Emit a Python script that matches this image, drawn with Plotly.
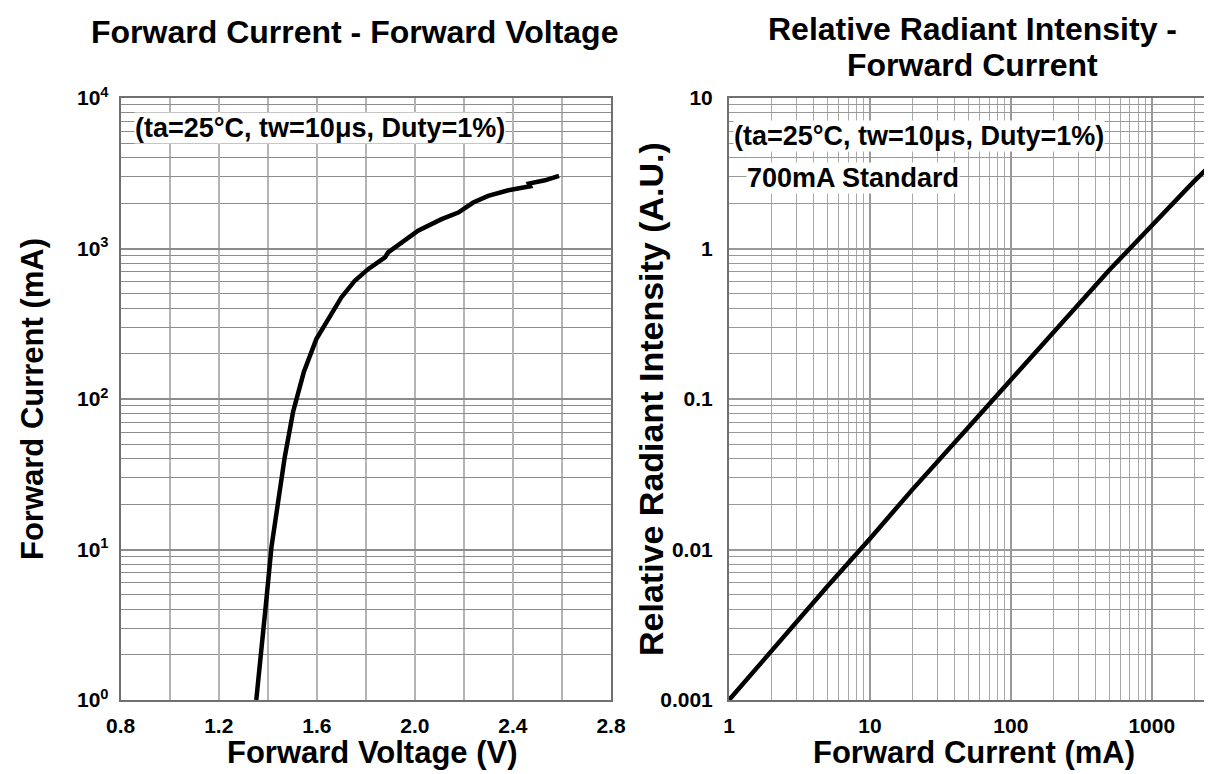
import numpy as np
import plotly.graph_objects as go

# ---- data: Forward current vs forward voltage ----
vf_volt = [1.353, 1.381, 1.394, 1.415, 1.442, 1.469, 1.503, 1.547, 1.598, 1.646,
           1.700, 1.755, 1.809, 1.878, 1.891, 2.013, 2.109, 2.177, 2.238, 2.299,
           2.381, 2.470, 2.465, 2.531, 2.588]
if_ma = [1.0, 3.2, 4.6, 10.4, 22, 41, 82, 151, 250, 340,
         473, 611, 729, 873, 942, 1312, 1566, 1734, 2020, 2238,
         2437, 2590, 2700, 2840, 3040]

# ---- data: relative radiant intensity vs forward current ----
ifr_ma = [1, 2, 5, 10, 20, 50, 100, 200, 500, 700, 1000, 2000, 3000]
rel_int = [0.001, 0.00212, 0.0057, 0.0118, 0.0250, 0.065, 0.135, 0.28, 0.72, 1.0,
           1.42, 2.8, 4.05]

# ---- tick labels ----
vf_ticks = [0.8, 1.2, 1.6, 2.0, 2.4, 2.8]
vf_ticktext = ["0.8", "1.2", "1.6", "2.0", "2.4", "2.8"]
vf_minor = [1.0, 1.4, 1.8, 2.2, 2.6]
if_ticks = [1, 10, 100, 1000, 10000]
if_ticktext = ["10<sup>0</sup>", "10<sup>1</sup>", "10<sup>2</sup>", "10<sup>3</sup>", "10<sup>4</sup>"]
ifr_ticks = [1, 10, 100, 1000]
ifr_ticktext = ["1", "10", "100", "1000"]
rel_ticks = [0.001, 0.01, 0.1, 1, 10]
rel_ticktext = ["0.001", "0.01", "0.1", "1", "10"]


def log_minor(lo_exp, hi_exp, upper=None):
    vals = []
    for d in range(lo_exp, hi_exp):
        for k in range(2, 10):
            v = k * 10.0 ** d
            if upper is None or v <= upper:
                vals.append(v)
    return vals


FONT = "Liberation Sans, Arial, sans-serif"
W, H = 1212, 774
L1, R1 = 112.7, 603.0
L2, R2 = 721.0, 1211.0
TOP, BOT = 90.0, 692.0

fig = go.Figure()
fig.add_trace(go.Scatter(x=vf_volt, y=if_ma, mode="lines",
                         line=dict(color="black", width=4.5), xaxis="x", yaxis="y",
                         showlegend=False))
fig.add_trace(go.Scatter(x=ifr_ma, y=rel_int, mode="lines",
                         line=dict(color="black", width=4.5), xaxis="x2", yaxis="y2",
                         showlegend=False))

tickfont = dict(family=FONT, size=21, color="black", weight="bold")
titlefont = dict(family=FONT, size=32, color="black", weight="bold")
axtitlefont = dict(family=FONT, size=31, color="black", weight="bold")
ytitle2font = dict(family=FONT, size=34, color="black", weight="bold")
annfont = dict(family=FONT, size=27, color="black", weight="bold")
ydom = [(H - BOT) / H, (H - TOP) / H]

common = dict(showline=True, mirror=True, linecolor="#707070", linewidth=2,
              ticks="", zeroline=False, tickfont=tickfont, automargin=False)

fig.update_layout(
    width=W, height=H, autosize=False,
    margin=dict(l=0, r=0, t=0, b=0, autoexpand=False),
    paper_bgcolor="white", plot_bgcolor="white",
    xaxis=dict(domain=[L1 / W, R1 / W], range=[0.8, 2.8], tickmode="array",
               tickvals=vf_ticks, ticktext=vf_ticktext,
               showgrid=True, gridcolor="#b4b4b4", gridwidth=1.5,
               minor=dict(tickmode="array", tickvals=vf_minor, showgrid=True,
                          gridcolor="#b4b4b4", gridwidth=1.5, ticks=""),
               ticklabelstandoff=6, anchor="y", **common),
    yaxis=dict(domain=ydom, type="log", range=[0, 4], tickmode="array",
               tickvals=if_ticks, ticktext=if_ticktext,
               showgrid=True, gridcolor="#8c8c8c", gridwidth=1.5,
               minor=dict(tickmode="array", tickvals=log_minor(0, 4), showgrid=True,
                          gridcolor="#8c8c8c", gridwidth=1.2, ticks=""),
               ticklabelstandoff=6, anchor="x", **common),
    xaxis2=dict(domain=[L2 / W, R2 / W], type="log", range=[0, np.log10(3000)],
                tickmode="array", tickvals=ifr_ticks, ticktext=ifr_ticktext,
                showgrid=True, gridcolor="#999999", gridwidth=1.5,
                minor=dict(tickmode="array", tickvals=log_minor(0, 4, 2000), showgrid=True,
                           gridcolor="#a8a8a8", gridwidth=1.2, ticks=""),
                ticklabelstandoff=6, anchor="y2", **common),
    yaxis2=dict(domain=ydom, type="log", range=[-3, 1], tickmode="array",
                tickvals=rel_ticks, ticktext=rel_ticktext,
                showgrid=True, gridcolor="#999999", gridwidth=1.5,
                minor=dict(tickmode="array", tickvals=log_minor(-3, 1), showgrid=True,
                           gridcolor="#999999", gridwidth=1.2, ticks=""),
                ticklabelstandoff=10, anchor="x2", **common),
)


def px(x, y):
    return x / W, (H - y) / H


anns = []
# chart titles
x, y = px(346, 24)
anns.append(dict(text="Forward Current - Forward Voltage", x=x, y=y, font=titlefont))
x, y = px(964, 21)
anns.append(dict(text="Relative Radiant Intensity -", x=x, y=y, font=titlefont))
x, y = px(964, 57)
anns.append(dict(text="Forward Current", x=x, y=y, font=titlefont))
# axis titles
x, y = px(364, 744)
anns.append(dict(text="Forward Voltage (V)", x=x, y=y, font=axtitlefont))
x, y = px((L2 + R2) / 2, 744)
anns.append(dict(text="Forward Current (mA)", x=x, y=y, font=axtitlefont))
x, y = px(25, (TOP + BOT) / 2)
anns.append(dict(text="Forward Current (mA)", x=x, y=y, font=axtitlefont, textangle=-90))
x, y = px(643, (TOP + BOT) / 2)
anns.append(dict(text="Relative Radiant Intensity (A.U.)", x=x, y=y, font=ytitle2font,
                 textangle=-90))
for a in anns:
    a.update(xref="paper", yref="paper", xanchor="center", yanchor="middle", showarrow=False)

# condition labels inside plots
anns += [
    dict(text="(ta=25°C, tw=10μs, Duty=1%)", x=(126 - L1) / (R1 - L1),
         y=(BOT - 120) / (BOT - TOP), xref="x domain", yref="y domain",
         xanchor="left", yanchor="middle", showarrow=False, bgcolor="white",
         borderpad=0, font=annfont),
    dict(text="(ta=25°C, tw=10μs, Duty=1%)", x=(725 - L2) / (R2 - L2),
         y=(BOT - 128) / (BOT - TOP), xref="x2 domain", yref="y2 domain",
         xanchor="left", yanchor="middle", showarrow=False, bgcolor="white",
         borderpad=0, font=annfont),
    dict(text="700mA Standard", x=(738 - L2) / (R2 - L2),
         y=(BOT - 170) / (BOT - TOP), xref="x2 domain", yref="y2 domain",
         xanchor="left", yanchor="middle", showarrow=False, bgcolor="white",
         borderpad=0, font=annfont),
]
fig.update_layout(annotations=anns)

fig.write_html("out.html")
